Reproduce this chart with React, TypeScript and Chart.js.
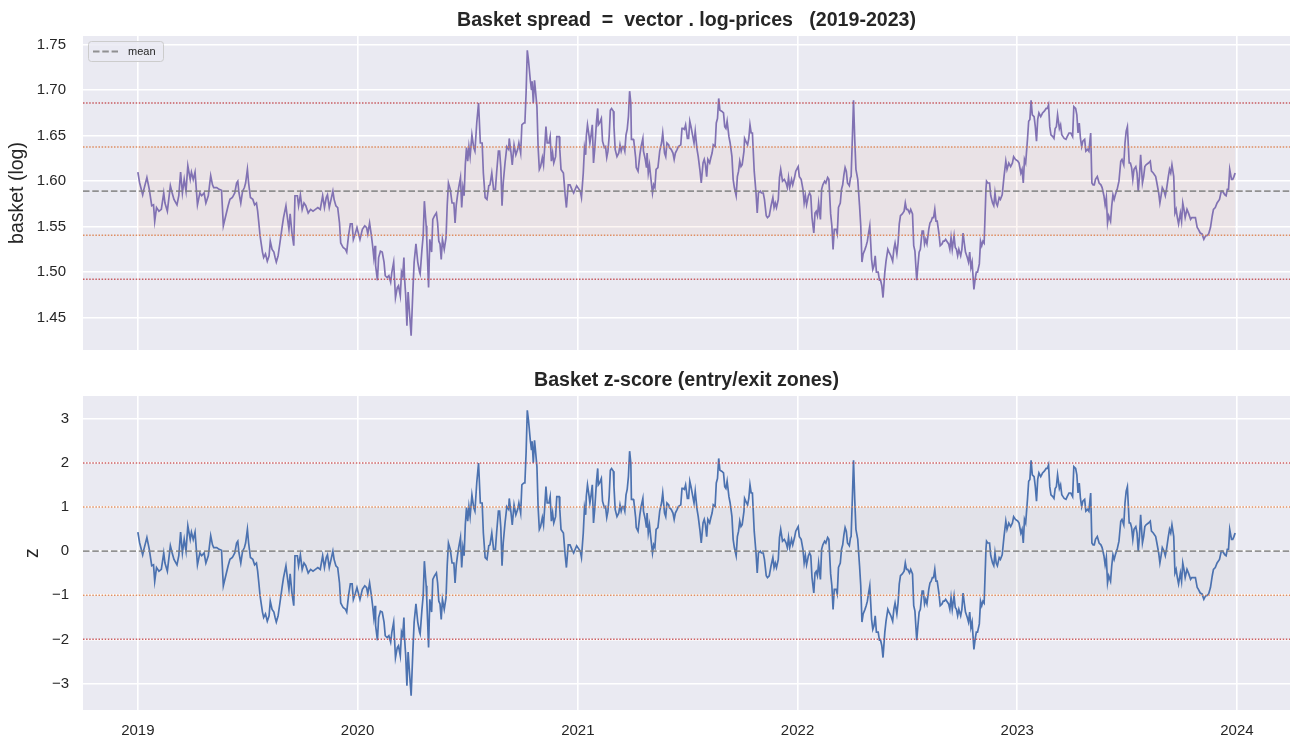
import React, { useEffect, useRef } from 'react';
import { Chart, registerables } from 'chart.js';

Chart.register(...registerables);

// ---------------- data ----------------
const YEAR_TICK_LABELS = ['2019', '2020', '2021', '2022', '2023', '2024'];
const YEAR_START_DAY = [0, 365, 731, 1096, 1461, 1826];

// day-of-year of each observation and basket (log) level
const DOY_2019 = [0,3,8,10,15,19,23,26,28,31,35,39,43,45,49,54,57,60,65,68,71,74,77,80,83,87,89,92,95,99,103,106,110,113,117,121,124,126,131,135,139,142,146,150,153,157,161,164,166,168,171,174,177,179,182,184,187,191,194,197,199,201,203,205,207,209,212,215,218,220,223,226,228,230,233,236,240,242,246,248,251,253,256,259,261,265,267,270,273,276,279,283,287,291,295,299,303,307,310,313,315,318,321,324,326,329,332,335,337,341,345,347,350,353,356,358,361,364];
const VAL_2019 = [1.610,1.598,1.585,1.591,1.604,1.591,1.573,1.574,1.556,1.571,1.567,1.569,1.587,1.576,1.567,1.595,1.587,1.580,1.574,1.584,1.610,1.587,1.602,1.589,1.617,1.602,1.610,1.602,1.610,1.574,1.587,1.584,1.587,1.576,1.584,1.606,1.596,1.593,1.593,1.591,1.590,1.551,1.562,1.573,1.580,1.582,1.587,1.598,1.600,1.587,1.576,1.589,1.593,1.598,1.613,1.598,1.582,1.580,1.574,1.576,1.567,1.554,1.540,1.531,1.522,1.516,1.520,1.512,1.518,1.534,1.525,1.522,1.516,1.511,1.518,1.532,1.551,1.560,1.573,1.562,1.547,1.564,1.543,1.529,1.584,1.584,1.573,1.585,1.569,1.576,1.573,1.565,1.569,1.567,1.569,1.571,1.569,1.584,1.571,1.582,1.585,1.571,1.580,1.589,1.580,1.573,1.571,1.554,1.532,1.527,1.525,1.522,1.540,1.553,1.553,1.536,1.542,1.549];

const DOY_2020 = [4,8,12,15,17,20,23,25,27,29,30,33,35,38,41,44,46,49,52,55,57,60,63,66,68,71,73,75,77,78,80,82,84,87,89,92,94,97,100,103,104,107,109,111,114,115,118,120,123,125,128,131,133,135,137,139,141,144,147,149,151,154,157,160,162,164,166,168,171,173,175,177,179,181,183,185,187,190,193,195,198,201,204,207,209,212,215,218,220,223,226,229,231,234,236,238,240,242,245,248,251,252,255,257,260,263,266,268,271,273,276,278,280,282,284,287,289,290,292,294,295,298,300,302,304,307,309,311,313,315,318,320,322,324,326,329,331,335,336,338,342,345,347,350,353,356,359,364];
const VAL_2020 = [1.536,1.547,1.551,1.549,1.542,1.554,1.540,1.529,1.516,1.529,1.507,1.491,1.516,1.523,1.522,1.511,1.496,1.494,1.496,1.489,1.500,1.511,1.472,1.483,1.485,1.474,1.500,1.496,1.516,1.494,1.474,1.441,1.478,1.449,1.430,1.481,1.511,1.531,1.511,1.500,1.498,1.525,1.540,1.578,1.551,1.536,1.483,1.536,1.522,1.558,1.562,1.565,1.554,1.534,1.531,1.514,1.536,1.525,1.538,1.574,1.598,1.591,1.576,1.576,1.554,1.574,1.584,1.593,1.604,1.571,1.593,1.584,1.618,1.637,1.622,1.638,1.627,1.651,1.637,1.633,1.664,1.686,1.642,1.642,1.609,1.582,1.580,1.595,1.596,1.609,1.591,1.591,1.609,1.633,1.633,1.615,1.573,1.598,1.620,1.638,1.635,1.647,1.631,1.618,1.640,1.629,1.635,1.642,1.631,1.662,1.664,1.664,1.697,1.744,1.733,1.711,1.700,1.710,1.686,1.711,1.704,1.682,1.637,1.613,1.616,1.626,1.618,1.638,1.660,1.642,1.642,1.649,1.622,1.631,1.620,1.627,1.649,1.649,1.635,1.613,1.609,1.584,1.571,1.596,1.596,1.591,1.587,1.595];

const DOY_2021 = [2,4,6,9,11,13,14,16,18,20,22,24,26,28,31,33,34,36,39,41,44,46,48,50,52,54,56,59,60,62,65,68,70,72,74,76,78,80,82,84,86,88,89,92,93,96,97,100,103,105,108,109,112,114,115,117,119,121,124,126,128,130,133,136,139,141,144,146,148,151,152,155,158,160,162,165,167,171,173,175,177,179,182,184,186,188,191,193,195,198,200,203,205,208,210,212,214,216,219,221,223,225,228,230,232,234,236,239,242,244,246,248,251,253,256,258,260,263,265,267,269,271,273,276,277,279,282,284,286,288,290,293,296,298,300,303,305,308,310,313,315,318,321,324,326,328,330,333,335,337,340,343,346,348,350,352,355,357,360,362];
const VAL_2021 = [1.591,1.589,1.582,1.609,1.637,1.629,1.649,1.662,1.653,1.642,1.651,1.662,1.620,1.635,1.666,1.680,1.662,1.664,1.669,1.644,1.637,1.638,1.626,1.633,1.649,1.678,1.680,1.677,1.660,1.635,1.627,1.631,1.640,1.633,1.638,1.638,1.633,1.651,1.657,1.671,1.699,1.686,1.646,1.646,1.644,1.626,1.615,1.611,1.629,1.638,1.647,1.633,1.624,1.615,1.631,1.609,1.618,1.605,1.587,1.596,1.593,1.613,1.615,1.633,1.642,1.653,1.631,1.627,1.642,1.640,1.637,1.635,1.631,1.624,1.631,1.635,1.638,1.640,1.658,1.658,1.657,1.662,1.647,1.647,1.666,1.660,1.649,1.642,1.655,1.635,1.627,1.611,1.598,1.620,1.624,1.618,1.605,1.624,1.620,1.626,1.631,1.640,1.638,1.664,1.669,1.691,1.678,1.677,1.675,1.660,1.658,1.666,1.649,1.642,1.627,1.602,1.593,1.584,1.605,1.611,1.622,1.616,1.618,1.633,1.647,1.644,1.640,1.647,1.662,1.653,1.653,1.611,1.587,1.565,1.587,1.589,1.587,1.587,1.580,1.562,1.560,1.562,1.573,1.582,1.571,1.576,1.571,1.580,1.604,1.613,1.600,1.602,1.598,1.593,1.604,1.593,1.602,1.596,1.604,1.611];

const DOY_2022 = [1,3,6,9,11,13,15,18,20,22,24,27,29,31,33,35,38,40,42,45,47,50,52,55,57,59,61,64,66,68,71,73,75,77,79,81,83,86,88,89,91,93,95,97,100,103,105,107,109,112,114,116,118,120,123,125,127,129,131,134,136,138,140,142,145,147,150,152,155,158,160,162,165,167,169,171,174,177,179,181,183,186,188,191,193,195,198,200,202,204,207,209,211,213,215,218,220,222,224,226,228,230,232,235,237,240,242,244,246,248,251,253,255,257,260,262,264,266,268,271,273,275,277,279,282,284,286,288,290,293,295,297,299,302,304,306,308,310,313,314,316,319,321,324,326,328,330,332,335,337,340,343,346,348,351,354,357,359,362];
const VAL_2022 = [1.616,1.605,1.602,1.591,1.576,1.584,1.574,1.584,1.587,1.584,1.560,1.543,1.565,1.567,1.562,1.576,1.558,1.591,1.596,1.600,1.598,1.604,1.602,1.564,1.551,1.525,1.547,1.547,1.542,1.571,1.576,1.591,1.596,1.607,1.615,1.611,1.598,1.595,1.604,1.605,1.646,1.689,1.646,1.613,1.602,1.573,1.551,1.511,1.520,1.525,1.529,1.534,1.543,1.551,1.514,1.503,1.507,1.518,1.500,1.500,1.491,1.491,1.485,1.472,1.500,1.512,1.525,1.522,1.518,1.512,1.525,1.532,1.520,1.532,1.553,1.562,1.564,1.567,1.576,1.569,1.569,1.565,1.569,1.564,1.529,1.523,1.491,1.507,1.522,1.525,1.545,1.545,1.531,1.536,1.531,1.547,1.554,1.556,1.560,1.560,1.569,1.556,1.556,1.542,1.529,1.531,1.534,1.534,1.536,1.534,1.531,1.525,1.538,1.525,1.540,1.527,1.525,1.518,1.525,1.518,1.525,1.543,1.532,1.522,1.516,1.511,1.522,1.505,1.511,1.481,1.492,1.500,1.500,1.509,1.534,1.529,1.534,1.532,1.591,1.600,1.598,1.598,1.584,1.576,1.573,1.587,1.576,1.573,1.582,1.580,1.585,1.605,1.622,1.613,1.620,1.616,1.620,1.627,1.624];

const DOY_2023 = [1,3,6,8,10,12,14,17,19,21,23,25,28,30,32,34,36,39,42,45,48,50,52,54,56,59,61,63,65,67,70,72,74,76,78,81,83,86,89,92,94,97,99,101,103,105,107,109,112,114,117,119,122,124,126,128,130,133,136,139,141,144,146,148,150,152,155,157,159,161,163,166,169,172,174,177,179,181,183,186,188,190,192,194,197,199,201,203,205,208,210,212,214,218,221,223,226,230,232,235,237,239,241,244,246,248,251,253,255,257,260,262,264,266,268,271,273,275,277,279,282,285,288,290,293,296,299,301,304,307,310,313,315,318,321,324,326,329,332,336,339,341,345,347,349,351,353,356,358,360,362];
const VAL_2023 = [1.622,1.620,1.609,1.613,1.598,1.624,1.620,1.646,1.666,1.668,1.689,1.673,1.671,1.660,1.644,1.668,1.675,1.671,1.675,1.677,1.680,1.680,1.684,1.660,1.651,1.649,1.647,1.658,1.660,1.673,1.658,1.662,1.651,1.649,1.647,1.646,1.649,1.653,1.653,1.649,1.682,1.680,1.673,1.653,1.664,1.647,1.638,1.644,1.646,1.633,1.635,1.633,1.653,1.598,1.596,1.596,1.602,1.605,1.598,1.596,1.593,1.584,1.574,1.582,1.554,1.562,1.556,1.573,1.585,1.580,1.585,1.591,1.600,1.622,1.624,1.618,1.642,1.655,1.660,1.620,1.620,1.615,1.602,1.613,1.616,1.609,1.589,1.605,1.629,1.598,1.605,1.616,1.618,1.620,1.622,1.611,1.609,1.605,1.598,1.587,1.576,1.584,1.593,1.589,1.584,1.591,1.605,1.613,1.609,1.618,1.605,1.565,1.569,1.560,1.553,1.565,1.556,1.576,1.569,1.560,1.569,1.564,1.558,1.560,1.560,1.560,1.549,1.547,1.543,1.542,1.536,1.540,1.540,1.542,1.549,1.562,1.569,1.571,1.576,1.580,1.589,1.589,1.585,1.584,1.591,1.591,1.613,1.602,1.602,1.605,1.609];

const MEAN_LEVEL = 1.589;
const SIGMA = 0.0485;
const ENTRY_Z = 2;
const EXIT_Z = 1;

const BASKET_TICKS = [1.45, 1.5, 1.55, 1.6, 1.65, 1.7, 1.75];
const Z_TICKS = [-3, -2, -1, 0, 1, 2, 3];

const TOP_TITLE = 'Basket spread  =  vector . log-prices   (2019-2023)';
const BOTTOM_TITLE = 'Basket z-score (entry/exit zones)';

// ---------------- helpers ----------------
const FONT = '"Liberation Sans", Arial, Helvetica, sans-serif';
const TEXT = '#262626';
const AX_BG = '#EAEAF2';
const RED = 'rgba(196,78,82,0.9)';
const ORANGE = 'rgba(221,132,82,0.9)';
const GREY = 'rgba(128,128,128,0.85)';

type Pt = { x: number; y: number };

function buildBasket(): Pt[] {
  const years: [number[], number[]][] = [
    [DOY_2019, VAL_2019],
    [DOY_2020, VAL_2020],
    [DOY_2021, VAL_2021],
    [DOY_2022, VAL_2022],
    [DOY_2023, VAL_2023],
  ];
  const pts: Pt[] = [];
  years.forEach(([d, v], k) => {
    const n = Math.min(d.length, v.length);
    for (let i = 0; i < n; i++) pts.push({ x: YEAR_START_DAY[k] + d[i], y: v[i] });
  });
  return pts;
}

function padRange(vals: number[]) {
  const lo = Math.min(...vals);
  const hi = Math.max(...vals);
  const m = (hi - lo) * 0.05;
  return { min: lo - m, max: hi + m };
}

function hline(level: number, x0: number, x1: number, color: string, width: number, dash: number[]) {
  return {
    data: [{ x: x0, y: level }, { x: x1, y: level }],
    borderColor: color,
    borderWidth: width,
    borderDash: dash,
    borderCapStyle: 'butt',
    pointRadius: 0,
    fill: false,
    tension: 0,
  };
}

const DOT = [1.5, 1.6];
const DASH = [6.5, 2.8];

interface PanelCfg {
  points: Pt[];
  mean: number;
  s1: number;
  s2: number;
  ticks: number[];
  fmt: (v: number) => string;
  lineColor: string;
  bandColor: string;
  yTitle: string;
  yTitlePad: number;
  yTickPad: number;
  title: string;
  showXLabels: boolean;
  padTop: number;
  padBottom: number;
  xHeight: number;
  legend: boolean;
}

function makeChart(canvas: HTMLCanvasElement, c: PanelCfg) {
  const xs = c.points.map((p) => p.x);
  const ys = c.points.map((p) => p.y);
  const xr = padRange(xs);
  const yr = padRange(ys);
  const xFirst = Math.min(...xs);
  const xLast = Math.max(...xs);

  const datasets: any[] = [
    hline(c.mean, xr.min, xr.max, GREY, 1.8, DASH),
    hline(c.mean + c.s2, xr.min, xr.max, RED, 1.5, DOT),
    hline(c.mean - c.s2, xr.min, xr.max, RED, 1.5, DOT),
    hline(c.mean + c.s1, xr.min, xr.max, ORANGE, 1.5, DOT),
    hline(c.mean - c.s1, xr.min, xr.max, ORANGE, 1.5, DOT),
    {
      data: c.points,
      borderColor: c.lineColor,
      borderWidth: 1.7,
      pointRadius: 0,
      fill: false,
      tension: 0,
    },
    {
      data: [{ x: xFirst, y: c.mean + c.s1 }, { x: xLast, y: c.mean + c.s1 }],
      borderWidth: 0,
      borderColor: 'rgba(0,0,0,0)',
      backgroundColor: c.bandColor,
      pointRadius: 0,
      fill: { value: c.mean - c.s1 },
      tension: 0,
    },
  ];

  const bgPlugin = {
    id: 'axesBg',
    beforeDraw(chart: any) {
      const { ctx, chartArea: a } = chart;
      ctx.save();
      ctx.fillStyle = AX_BG;
      ctx.fillRect(a.left, a.top, a.right - a.left, a.bottom - a.top);
      ctx.restore();
    },
  };

  const titlePlugin = {
    id: 'panelTitle',
    afterDraw(chart: any) {
      const { ctx, chartArea: a } = chart;
      ctx.save();
      ctx.font = `bold 19.6px ${FONT}`;
      ctx.fillStyle = TEXT;
      ctx.textAlign = 'center';
      ctx.textBaseline = 'alphabetic';
      ctx.fillText(c.title, (a.left + a.right) / 2, a.top - 10.5);
      if (c.legend) {
        const bx = a.left + 5;
        const by = a.top + 5;
        const bw = 75;
        const bh = 20;
        ctx.beginPath();
        ctx.roundRect(bx + 0.5, by + 0.5, bw, bh, 3);
        ctx.fillStyle = 'rgba(234,234,242,0.8)';
        ctx.fill();
        ctx.strokeStyle = '#cccccc';
        ctx.lineWidth = 1;
        ctx.stroke();
        ctx.beginPath();
        ctx.setLineDash(DASH);
        ctx.strokeStyle = GREY;
        ctx.lineWidth = 1.8;
        ctx.moveTo(bx + 5, by + 10.5);
        ctx.lineTo(bx + 30, by + 10.5);
        ctx.stroke();
        ctx.setLineDash([]);
        ctx.font = `11px ${FONT}`;
        ctx.fillStyle = TEXT;
        ctx.textAlign = 'left';
        ctx.textBaseline = 'middle';
        ctx.fillText('mean', bx + 40, by + 11);
      }
      ctx.restore();
    },
  };

  return new Chart(canvas, {
    type: 'line',
    data: { datasets },
    plugins: [bgPlugin, titlePlugin],
    options: {
      animation: false,
      responsive: false,
      devicePixelRatio: 1,
      events: [],
      layout: { padding: { top: c.padTop, right: 12, bottom: c.padBottom, left: 0 } },
      plugins: { legend: { display: false }, tooltip: { enabled: false }, title: { display: false } },
      scales: {
        x: {
          type: 'linear',
          min: xr.min,
          max: xr.max,
          afterBuildTicks: (s: any) => {
            s.ticks = YEAR_START_DAY.map((v) => ({ value: v }));
          },
          afterFit: (s: any) => {
            s.height = c.xHeight;
            s.paddingLeft = 0;
            s.paddingRight = 0;
          },
          grid: { color: '#ffffff', lineWidth: 1.6, drawTicks: false },
          border: { display: false },
          ticks: {
            display: c.showXLabels,
            autoSkip: false,
            maxRotation: 0,
            padding: 12,
            color: TEXT,
            font: { family: FONT, size: 15 },
            callback: (_v: any, i: number) => YEAR_TICK_LABELS[i],
          },
        },
        y: {
          type: 'linear',
          min: yr.min,
          max: yr.max,
          afterBuildTicks: (s: any) => {
            s.ticks = c.ticks.map((v) => ({ value: v }));
          },
          afterFit: (s: any) => {
            s.width = 83;
            s.paddingTop = 0;
            s.paddingBottom = 0;
          },
          grid: { color: '#ffffff', lineWidth: 1.6, drawTicks: false },
          border: { display: false },
          ticks: {
            autoSkip: false,
            padding: c.yTickPad,
            color: TEXT,
            font: { family: FONT, size: 15 },
            callback: (v: any) => c.fmt(Number(v)),
          },
          title: {
            display: true,
            text: c.yTitle,
            color: TEXT,
            font: { family: FONT, size: 19.5 },
            padding: { top: c.yTitlePad, bottom: 0 },
          },
        },
      },
    } as any,
  });
}

export default function App() {
  const topRef = useRef<HTMLCanvasElement | null>(null);
  const botRef = useRef<HTMLCanvasElement | null>(null);

  useEffect(() => {
    const basket = buildBasket();
    const z = basket.map((p) => ({ x: p.x, y: (p.y - MEAN_LEVEL) / SIGMA }));

    const top = makeChart(topRef.current!, {
      points: basket,
      mean: MEAN_LEVEL,
      s1: EXIT_Z * SIGMA,
      s2: ENTRY_Z * SIGMA,
      ticks: BASKET_TICKS,
      fmt: (v) => v.toFixed(2),
      lineColor: '#8172B3',
      bandColor: 'rgba(221,132,82,0.07)',
      yTitle: 'basket (log)',
      yTitlePad: 6,
      yTickPad: 17,
      title: TOP_TITLE,
      showXLabels: false,
      padTop: 36,
      padBottom: 16,
      xHeight: 0,
      legend: true,
    });
    const bot = makeChart(botRef.current!, {
      points: z,
      mean: 0,
      s1: EXIT_Z,
      s2: ENTRY_Z,
      ticks: Z_TICKS,
      fmt: (v) => (v < 0 ? '\u2212' + Math.abs(v) : String(v)),
      lineColor: '#4C72B0',
      bandColor: 'rgba(128,128,128,0.07)',
      yTitle: 'z',
      yTitlePad: 21,
      yTickPad: 14,
      title: BOTTOM_TITLE,
      showXLabels: true,
      padTop: 30,
      padBottom: 0,
      xHeight: 42,
      legend: false,
    });
    return () => {
      top.destroy();
      bot.destroy();
    };
  }, []);

  return (
    <div style={{ position: 'absolute', left: 0, top: 0, width: 1302, height: 752, background: '#ffffff' }}>
      <canvas ref={topRef} width={1302} height={366} style={{ display: 'block', width: 1302, height: 366 }} />
      <canvas ref={botRef} width={1302} height={386} style={{ display: 'block', width: 1302, height: 386 }} />
    </div>
  );
}
